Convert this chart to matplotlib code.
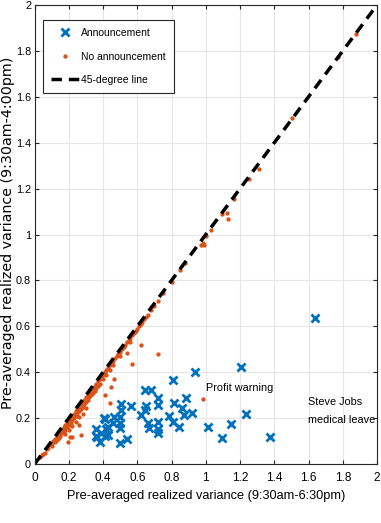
import numpy as np
import matplotlib.pyplot as plt

# announcement days (blue crosses)
ann_x = [0.938, 0.810, 0.642, 0.681, 0.719, 0.719, 0.884, 0.816, 0.652, 0.642,
         0.619, 0.565, 0.506, 0.506, 0.497, 0.497, 0.497, 0.463, 0.458, 0.428,
         0.409, 0.415, 0.357, 0.365, 0.409, 0.497, 0.541, 0.661, 0.671, 0.719,
         0.719, 0.719, 0.787, 0.806, 0.845, 0.861, 0.874, 0.919, 1.010, 1.095,
         1.149, 1.204, 1.233, 1.373, 1.640, 0.361, 0.380, 0.404, 0.388, 0.430]
ann_y = [0.400, 0.366, 0.323, 0.323, 0.286, 0.257, 0.289, 0.264, 0.253, 0.235,
         0.214, 0.253, 0.261, 0.235, 0.205, 0.179, 0.156, 0.203, 0.177, 0.160,
         0.195, 0.151, 0.151, 0.116, 0.122, 0.090, 0.110, 0.177, 0.156, 0.184,
         0.151, 0.134, 0.209, 0.184, 0.163, 0.243, 0.214, 0.221, 0.163, 0.112,
         0.174, 0.424, 0.217, 0.119, 0.637, 0.122, 0.097, 0.199, 0.135, 0.128]

# no-announcement days (orange dots)
no_x = [0.03, 0.05, 0.06, 0.07, 0.08, 0.09, 0.10, 0.10, 0.11, 0.12, 0.12, 0.13, 0.13,
        0.14, 0.14, 0.15, 0.15, 0.16, 0.16, 0.17, 0.17, 0.18, 0.18, 0.18, 0.19, 0.19,
        0.20, 0.20, 0.20, 0.21, 0.21, 0.22, 0.22, 0.22, 0.23, 0.23, 0.24, 0.24, 0.24,
        0.25, 0.25, 0.26, 0.26, 0.26, 0.27, 0.27, 0.28, 0.28, 0.28, 0.29, 0.29, 0.30,
        0.30, 0.30, 0.31, 0.31, 0.32, 0.32, 0.33, 0.33, 0.34, 0.34, 0.35, 0.35, 0.36,
        0.36, 0.37, 0.37, 0.38, 0.38, 0.39, 0.40, 0.40, 0.41, 0.42, 0.42, 0.43, 0.44,
        0.44, 0.45, 0.46, 0.46, 0.47, 0.48, 0.49, 0.50, 0.50, 0.51, 0.52, 0.53, 0.54,
        0.55, 0.56, 0.56, 0.57, 0.58, 0.59, 0.60, 0.61, 0.62, 0.63, 0.64, 0.65, 0.66,
        0.68, 0.70, 0.72, 0.75, 0.80, 0.85, 0.88,
        0.619, 0.541, 0.719, 0.570, 0.462, 0.448, 0.409, 0.438, 0.985, 0.260, 0.270,
        0.221, 0.205, 0.196, 0.045,
        1.310, 1.252, 1.165, 1.126, 1.097, 1.132, 1.030, 1.004, 0.981, 0.972, 0.991,
        1.878, 1.772, 1.504]
no_y = [0.03, 0.045, 0.05, 0.065, 0.07, 0.085, 0.09, 0.08, 0.10, 0.11, 0.095, 0.12, 0.105,
        0.13, 0.115, 0.14, 0.12, 0.15, 0.135, 0.16, 0.14, 0.17, 0.15, 0.13, 0.18, 0.16,
        0.19, 0.17, 0.15, 0.20, 0.18, 0.21, 0.19, 0.165, 0.22, 0.20, 0.23, 0.21, 0.185,
        0.24, 0.22, 0.25, 0.23, 0.205, 0.26, 0.24, 0.27, 0.25, 0.22, 0.28, 0.26, 0.29,
        0.27, 0.245, 0.30, 0.28, 0.31, 0.29, 0.32, 0.30, 0.33, 0.31, 0.34, 0.32, 0.35,
        0.33, 0.36, 0.34, 0.37, 0.35, 0.38, 0.39, 0.37, 0.40, 0.41, 0.39, 0.42, 0.43,
        0.41, 0.44, 0.45, 0.43, 0.46, 0.47, 0.48, 0.49, 0.47, 0.50, 0.51, 0.52, 0.53,
        0.54, 0.55, 0.53, 0.56, 0.57, 0.58, 0.59, 0.60, 0.61, 0.62, 0.63, 0.64, 0.65,
        0.67, 0.69, 0.71, 0.745, 0.795, 0.845, 0.875,
        0.519, 0.482, 0.479, 0.436, 0.370, 0.337, 0.301, 0.264, 0.282, 0.170, 0.126,
        0.116, 0.118, 0.098, 0.039,
        1.284, 1.242, 1.153, 1.095, 1.089, 1.066, 1.020, 0.993, 0.964, 0.954, 0.954,
        1.874, 1.775, 1.506]

tick_vals = np.arange(0, 2.01, 0.2)
tick_labels = ['0', '0.2', '0.4', '0.6', '0.8', '1', '1.2', '1.4', '1.6', '1.8', '2']

plt.rcParams['font.family'] = ['Liberation Sans', 'DejaVu Sans']

fig = plt.figure(figsize=(3.81, 5.23), dpi=100)
ax = fig.add_axes([0.0908, 0.1128, 0.8987, 0.8776])

blue = '#0072BD'
orange = '#D95319'

ax.plot(ann_x, ann_y, 'x', color=blue, ms=5.5, mew=2.0, label='Announcement')
ax.plot(no_x, no_y, '.', color=orange, ms=4.2, label='No announcement')
ax.plot([0, 2], [0, 2], '--', color='black', lw=2.5, dashes=(3, 2),
        label='45-degree line')

ax.text(1.0, 0.331, 'Profit warning', fontsize=7.8, va='center', ha='left')
ax.text(1.596, 0.231, 'Steve Jobs\nmedical leave', fontsize=7.8, va='center',
        ha='left', linespacing=1.9)

ax.set_xlim(0, 2)
ax.set_ylim(0, 2)
ax.set_xticks(tick_vals)
ax.set_yticks(tick_vals)
ax.set_xticklabels(tick_labels)
ax.set_yticklabels(tick_labels)
ax.tick_params(direction='in', top=True, right=True, labelsize=8.5, length=3,
               color='#262626')
ax.tick_params(axis='x', pad=6)
ax.tick_params(axis='y', pad=2.5, labelsize=7.8)
ax.grid(True, color='#e6e6e6', lw=0.8)
ax.set_axisbelow(True)
for s in ax.spines.values():
    s.set_color('#262626')
    s.set_linewidth(0.8)

ax.set_xlabel('Pre-averaged realized variance (9:30am-6:30pm)', fontsize=9.2)
ax.xaxis.set_label_coords(0.5, -0.056)
ax.set_ylabel('Pre-averaged realized variance (9:30am-4:00pm)', fontsize=10.3,
              family=['DejaVu Sans'], va='center')
ax.yaxis.set_label_coords(-0.079, 0.504)

leg = ax.legend(loc='upper left', bbox_to_anchor=(0.024, 0.968), fontsize=7.5,
                fancybox=False, edgecolor='#262626', framealpha=1,
                handlelength=2.7, handletextpad=0.2, borderpad=0.8,
                labelspacing=1.3, borderaxespad=0)
leg.get_frame().set_linewidth(0.8)

fig.savefig('out.png', dpi=100)
